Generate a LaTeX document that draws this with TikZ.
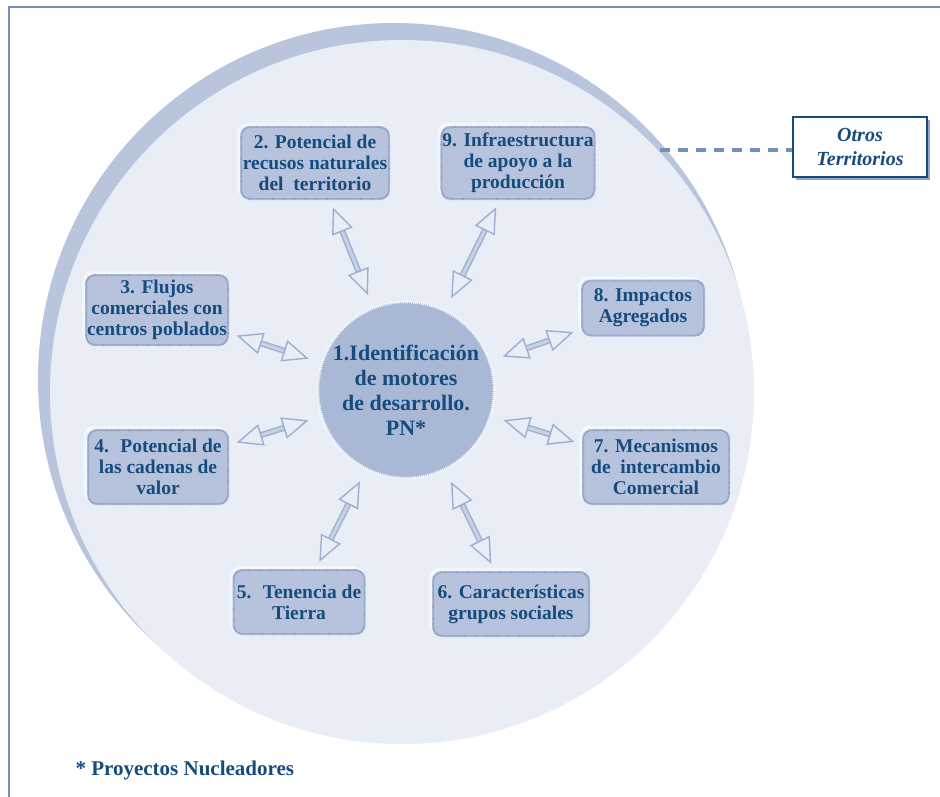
\documentclass[tikz,border=0pt]{standalone}
\usepackage{fontspec}
\setmainfont{Liberation Serif}
\usetikzlibrary{arrows.meta,shapes}
\definecolor{frameblue}{HTML}{7390BA}
\definecolor{ringblue}{HTML}{B9C5DD}
\definecolor{paleblue}{HTML}{E9EDF5}
\definecolor{boxblue}{HTML}{B7C3DC}
\definecolor{hubblue}{HTML}{A9B9D5}
\definecolor{edgeblue}{HTML}{8A9DC5}
\definecolor{inkblue}{HTML}{164B7E}
\definecolor{arrowblue}{HTML}{9CAFD2}
\tikzset{
  motor/.style={rectangle, rounded corners=9pt, fill=boxblue, draw=edgeblue,
    line width=2pt, dash pattern=on 0.6pt off 0.5pt, text=inkblue,
    font=\fontsize{19.5}{21}\selectfont\bfseries, align=center, inner sep=1pt,
    preaction={draw=white, line width=3pt, dash pattern=on 1pt off 1pt,
      transform canvas={shift={(-2.5pt,2.5pt)}}}},
  hub/.style={circle, fill=hubblue, draw=white, line width=2.5pt,
    dash pattern=on 1pt off 1pt, text=inkblue, minimum size=176pt,
    font=\fontsize{22}{25}\selectfont\bfseries, align=center, inner sep=0pt},
  twoway/.style={draw=arrowblue, line width=1.4pt, double=arrowblue!45!paleblue,
    double distance=3.2pt, shorten <=8pt, shorten >=13pt,
    {Triangle[open,length=26pt,width=22pt]}-{Triangle[open,length=26pt,width=22pt]}},
}

\begin{document}
\begin{tikzpicture}[x=1pt,y=-1pt]
  \useasboundingbox (0,0) rectangle (940,797);
  % frame
  \draw[frameblue, line width=2pt] (9,797) -- (9,7) -- (940,7);

  % territory disc
  \fill[ringblue] (394,379) circle (356);
  \fill[paleblue] (402,392) circle (352);

  % other territories
  \coordinate (rim) at (660,150);
  \node[rectangle, fill=white, draw=inkblue, line width=1.6pt, text=inkblue,
    minimum width=134pt, minimum height=60pt, align=center,
    font=\fontsize{20}{24}\selectfont\bfseries\itshape,
    preaction={fill=frameblue!80, transform canvas={shift={(3pt,-3pt)}}}]
    (otros) at (860,147) {Otros\\Territorios};
  \draw[frameblue, line width=3.2pt, dash pattern=on 10pt off 8pt] (rim) -- (rim -| otros.west);

  % motors
  \node[hub] (c1) at (406,390) {1.Identificación\\de motores\\de desarrollo.\\PN*};
  \node[motor, minimum width=148pt, minimum height=72pt] (b2) at (315,163) {2. Potencial de\\recusos naturales\\del~ territorio};
  \node[motor, minimum width=142pt, minimum height=70pt] (b3) at (157,310) {3. Flujos\\comerciales con\\centros poblados};
  \node[motor, minimum width=140pt, minimum height=74pt] (b4) at (158,467) {4.~ Potencial de\\las cadenas de\\valor};
  \node[motor, minimum width=131pt, minimum height=64pt] (b5) at (299,602) {5.~ Tenencia de\\Tierra};
  \node[motor, minimum width=156pt, minimum height=64pt] (b6) at (511,604) {6. Características\\grupos sociales};
  \node[motor, minimum width=146pt, minimum height=74pt] (b7) at (656,467) {7. Mecanismos\\de~ intercambio\\Comercial};
  \node[motor, minimum width=122pt, minimum height=55pt] (b8) at (643,308) {8. Impactos\\Agregados};
  \node[motor, minimum width=148pt, minimum height=72pt] (b9) at (518,163) {9. Infraestructura\\de apoyo a la\\producción};

  % links
  \foreach \b in {b2,b3,b4,b5,b6,b7,b8,b9}
    \draw[twoway] (\b) -- (c1);

  \node[anchor=west, text=inkblue, font=\fontsize{21}{24}\selectfont\bfseries]
    (note) at (72,770) {* Proyectos Nucleadores};
\end{tikzpicture}
\end{document}
